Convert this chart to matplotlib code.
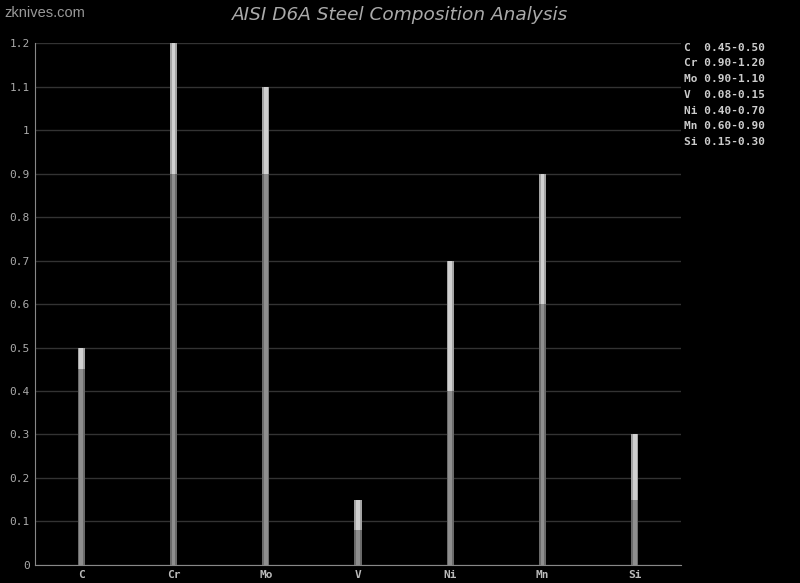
import numpy as np
import matplotlib.pyplot as plt

elements = ['C', 'Cr', 'Mo', 'V', 'Ni', 'Mn', 'Si']
min_vals = [0.45, 0.90, 0.90, 0.08, 0.40, 0.60, 0.15]
max_vals = [0.50, 1.20, 1.10, 0.15, 0.70, 0.90, 0.30]
legend_rows = ['C  0.45-0.50', 'Cr 0.90-1.20', 'Mo 0.90-1.10', 'V  0.08-0.15',
               'Ni 0.40-0.70', 'Mn 0.60-0.90', 'Si 0.15-0.30']
yticks = [0, 0.1, 0.2, 0.3, 0.4, 0.5, 0.6, 0.7, 0.8, 0.9, 1, 1.1, 1.2]
ylabels = ['0', '0.1', '0.2', '0.3', '0.4', '0.5', '0.6', '0.7', '0.8', '0.9', '1', '1.1', '1.2']

mono = 'DejaVu Sans Mono'
fig = plt.figure(figsize=(8, 5.83), dpi=100, facecolor='black')
ax = fig.add_axes([0.044, 0.031, 0.807, 0.895], facecolor='black')

x = np.arange(len(elements))
lo = np.array(min_vals)
hi = np.array(max_vals)

# lower part (0 -> min), darker with a lighter core
ax.bar(x, lo, width=0.08, color='#6a6a6a', zorder=3)
ax.bar(x, lo, width=0.04, color='#8e8e8e', zorder=4)
# upper part (min -> max), lighter
ax.bar(x, hi - lo, bottom=lo, width=0.08, color='#a4a4a4', zorder=3)
ax.bar(x, hi - lo, bottom=lo, width=0.04, color='#d0d0d0', zorder=4)

ax.set_xlim(-0.5, 6.5)
ax.set_ylim(0, 1.2)
ax.set_yticks(yticks)
ax.set_yticklabels(ylabels)
ax.set_xticks(x)
ax.set_xticklabels(elements)
ax.yaxis.grid(True, color='#333333', linewidth=1)
ax.set_axisbelow(True)

for s in ['top', 'right']:
    ax.spines[s].set_visible(False)
for s in ['left', 'bottom']:
    ax.spines[s].set_color('#888888')
ax.tick_params(axis='both', colors='#888888', length=0, pad=4)
for lab in ax.get_yticklabels():
    lab.set_family(mono)
    lab.set_fontsize(8)
    lab.set_color('#aaaaaa')
for lab in ax.get_xticklabels():
    lab.set_family(mono)
    lab.set_fontsize(8)
    lab.set_weight('bold')
    lab.set_color('#bbbbbb')

fig.text(0.5, 0.975, 'AISI D6A Steel Composition Analysis', ha='center', va='center',
         color='#aaaaaa', fontsize=13.3, style='italic')
fig.text(0.006, 0.977, 'zknives.com', ha='left', va='center', color='#999999',
         fontsize=10.5, family='Liberation Sans')

for i, row in enumerate(legend_rows):
    fig.text(0.855, 0.918 - i * 0.0269, row, ha='left', va='center',
             family=mono, fontsize=8, weight='bold', color='#cccccc')

fig.savefig('out.png', dpi=100, facecolor='black')
